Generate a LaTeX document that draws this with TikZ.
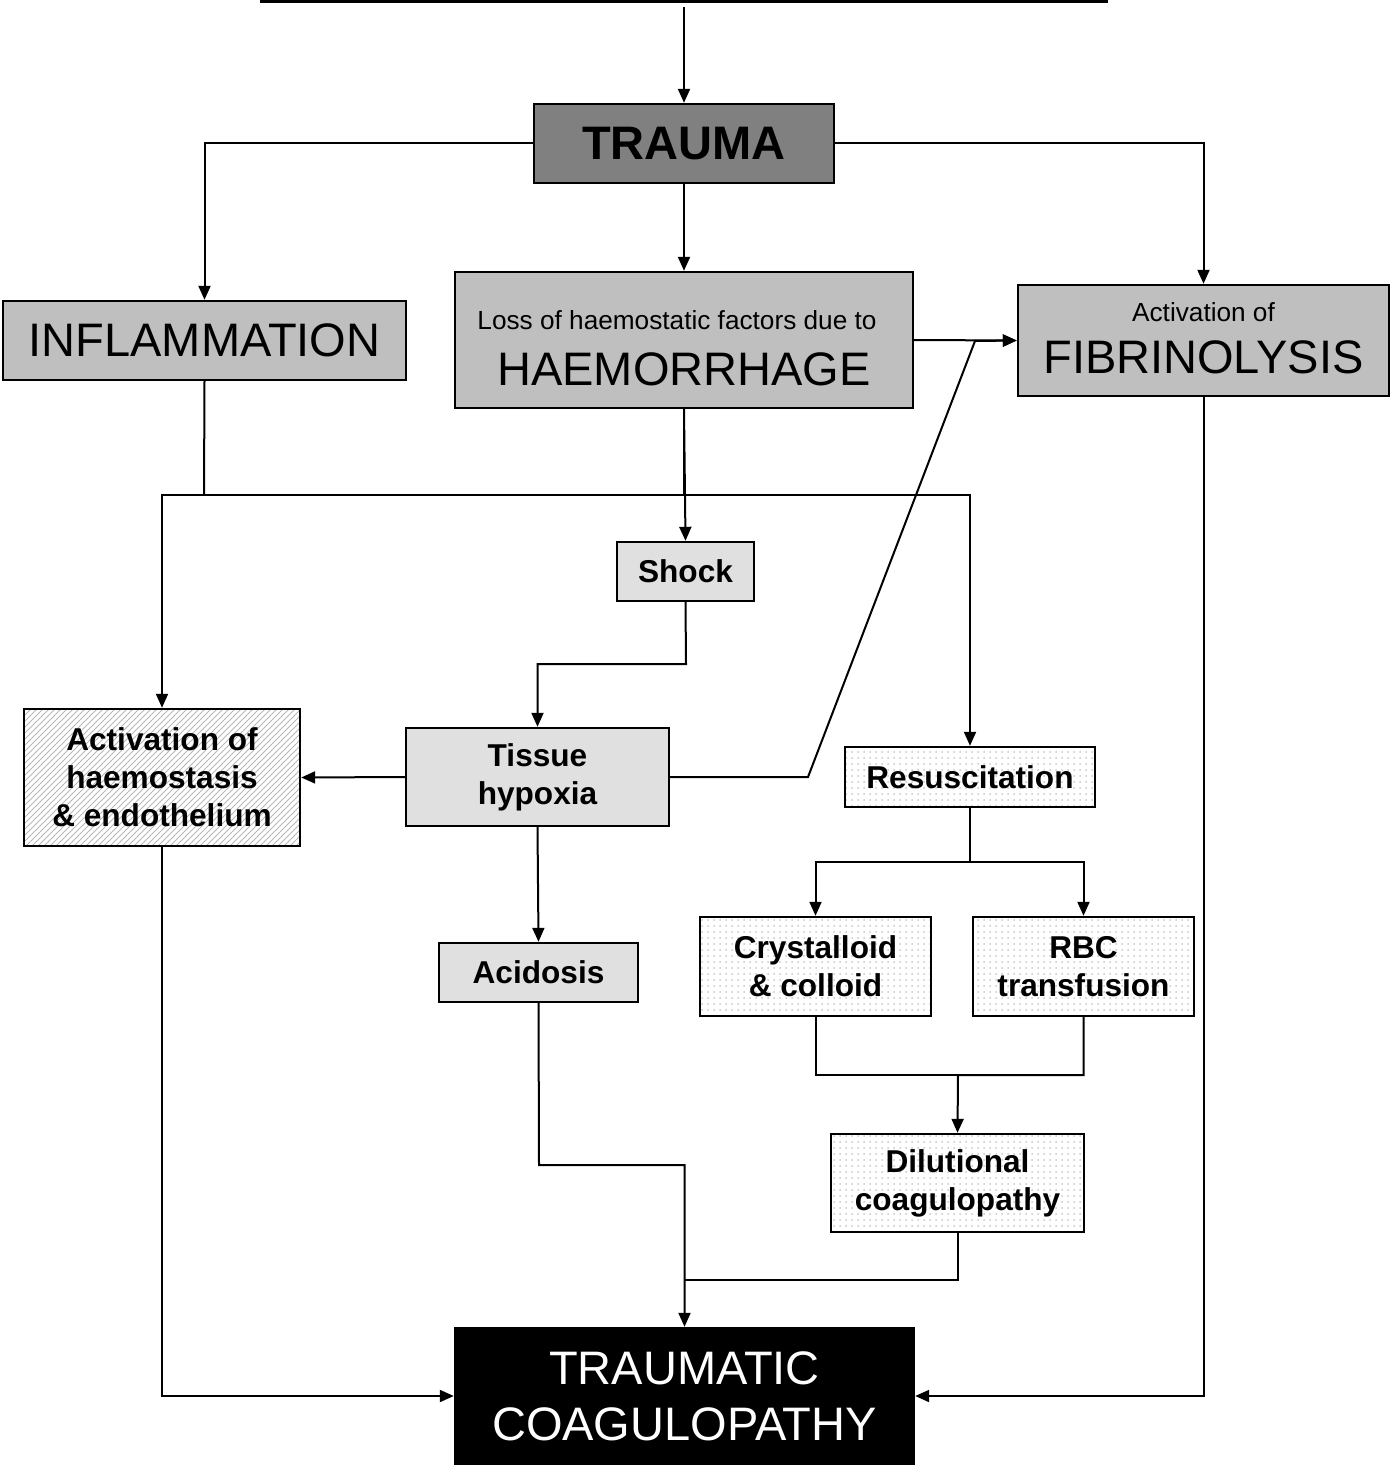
\documentclass[tikz,border=0pt]{standalone}
\usepackage{fontspec}
\setmainfont{Liberation Sans}
\usetikzlibrary{arrows.meta,patterns}
\begin{document}
\begin{tikzpicture}[x=0.5pt,y=-0.5pt,
  box/.style={draw, line width=1.2pt, inner sep=0pt, align=center, font=\bfseries\fontsize{15.8}{19}\selectfont},
  bigbox/.style={draw, line width=1.2pt, inner sep=0pt, align=center, font=\fontsize{23.5}{28}\selectfont},
  dense/.style={fill=black!12},
  sparse/.style={pattern=dots, pattern color=black!22},
  hatch/.style={pattern=north east lines, pattern color=black!28},
  arr/.style={-{Triangle[length=7pt,width=6pt]}, line width=1pt},
  ln/.style={line width=1pt}]
\useasboundingbox (0,0) rectangle (1390,1466);

\coordinate (topl) at (260,1);
\coordinate (topr) at (1108,1);
\coordinate (topin) at (684,7);
\draw[line width=1.6pt] (topl) -- (topr);

\node[bigbox, fill=black!50, font=\bfseries\fontsize{23.5}{28}\selectfont, minimum width=150pt, minimum height=39.5pt] (trauma) at (684,143.5) {TRAUMA};
\node[bigbox, fill=black!25, minimum width=201.5pt, minimum height=39.5pt] (infl) at (204.5,340.5) {INFLAMMATION};
\node[bigbox, fill=black!25, minimum width=229pt, minimum height=68pt] (haem) at (684,340) {};
\node[font=\fontsize{13.1}{15}\selectfont, inner sep=0pt] (haemA) at (677,320) {Loss of haemostatic factors due to};
\node[font=\fontsize{23.5}{28}\selectfont, inner sep=0pt] (haemB) at (684,369) {HAEMORRHAGE};
\node[bigbox, fill=black!25, minimum width=185.5pt, minimum height=55.5pt] (fib) at (1203.5,340.5) {};
\node[font=\fontsize{13.1}{15}\selectfont, inner sep=0pt] (fibA) at (1203.5,312) {Activation of};
\node[font=\fontsize{23.5}{28}\selectfont, inner sep=0pt] (fibB) at (1203.5,357) {FIBRINOLYSIS};

\node[box, dense, minimum width=68.5pt, minimum height=29.5pt] (shock) at (685.5,571.5) {Shock};
\node[box, hatch, minimum width=138pt, minimum height=68.5pt] (act) at (162,777.5) {Activation of\\haemostasis\\\& endothelium};
\node[box, dense, minimum width=131.5pt, minimum height=49pt] (tissue) at (537.5,777) {Tissue\\hypoxia};
\node[box, dense, minimum width=99.5pt, minimum height=29.5pt] (acid) at (538.5,972.5) {Acidosis};
\node[box, sparse, minimum width=125pt, minimum height=30pt] (resus) at (970,777) {Resuscitation};
\node[box, sparse, minimum width=115.5pt, minimum height=49.5pt] (cryst) at (815.5,966.5) {Crystalloid\\\& colloid};
\node[box, sparse, minimum width=110.5pt, minimum height=49.5pt] (rbc) at (1083.5,966.5) {RBC\\transfusion};
\node[box, sparse, minimum width=126.5pt, minimum height=49pt] (dil) at (957.5,1183) {Dilutional\\coagulopathy};
\node[bigbox, fill=black, text=white, draw=black, minimum width=229.5pt, minimum height=68pt] (tc) at (684.5,1396) {TRAUMATIC\\[0pt]COAGULOPATHY};

% connectors
\draw[arr] (topin) -- (trauma.north);
\draw[arr] (trauma.west) -| (infl.north);
\draw[arr] (trauma.east) -| (fib.north);
\draw[arr] (trauma.south) -- (haem.north);
\draw[arr] (haem.east) -- (fib.west);
\draw[arr] (haem.south) -- (shock.north);
\draw[ln] (infl.south) -- (204,495);
\draw[arr] (684,408) -- (684,495) -| (act.north);
\draw[arr] (684,408) -- (684,495) -| (resus.north);
\draw[arr] (shock.south) -- (686,664) -| (tissue.north);
\draw[arr] (tissue.west) -- (act.east);
\draw[arr] (tissue.east) -- (808,777) -- (975,341) -- (fib.west);
\draw[arr] (tissue.south) -- (acid.north);
\draw[arr] (resus.south) -- (970,862) -| (cryst.north);
\draw[arr] (resus.south) -- (970,862) -| (rbc.north);
\draw[ln] (cryst.south) |- (958,1075);
\draw[arr] (rbc.south) |- (958,1075) -- (dil.north);
\draw[arr] (acid.south) -- (539,1165) -| (tc.north);
\draw[ln] (dil.south) |- (685,1280);
\draw[arr] (act.south) |- (tc.west);
\draw[arr] (fib.south) |- (tc.east);
\end{tikzpicture}
\end{document}
